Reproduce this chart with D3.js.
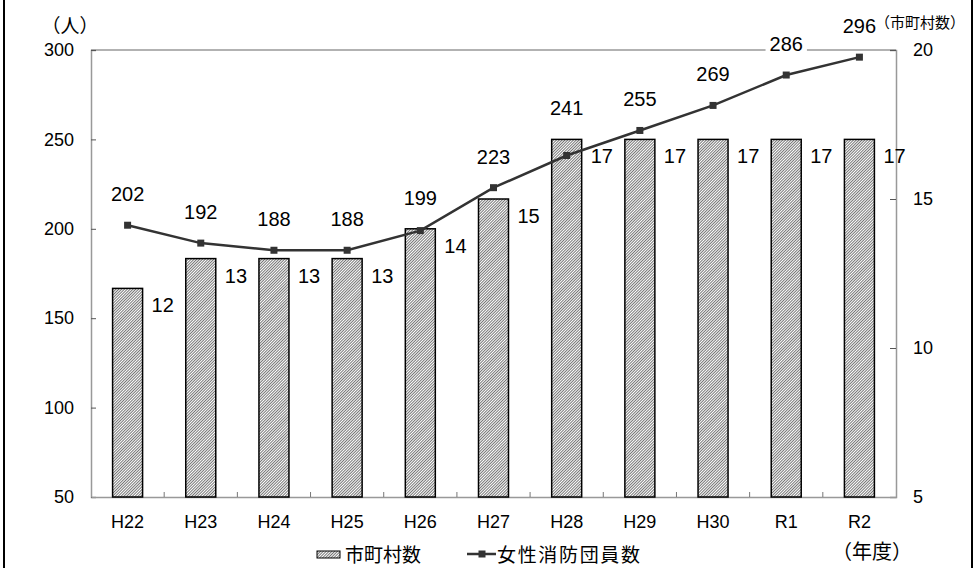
<!DOCTYPE html>
<html><head><meta charset="utf-8">
<script src="https://cdn.jsdelivr.net/npm/d3@7"></script>
<style>
body{margin:0;background:#fff;}
svg{display:block;}
text{font-family:"Liberation Sans","Noto Sans CJK JP",sans-serif;fill:#000;}
.jp{font-family:"Noto Sans CJK JP",sans-serif;}
</style></head>
<body><svg id="c" width="974" height="568"></svg>
<script>
const categories = ["H22","H23","H24","H25","H26","H27","H28","H29","H30","R1","R2"];
const municipalities = [12,13,13,13,14,15,17,17,17,17,17];
const femaleMembers = [202,192,188,188,199,223,241,255,269,286,296];
const leftTicks = [50,100,150,200,250,300];
const rightTicks = [5,10,15,20];
const barSeriesName = "市町村数";
const lineSeriesName = "女性消防団員数";
const leftUnit = "（人）";
const rightUnit = "（市町村数）";
const xUnit = "（年度）";

const svg = d3.select("#c");
const L = 91, R = 896, T = 50, B = 497;
const x = d3.scaleBand().domain(categories).range([L, R]);
const yL = d3.scaleLinear().domain([50,300]).range([B, T]);
const yR = d3.scaleLinear().domain([5,20]).range([B, T]);
const barW = 30;

// frame side lines
svg.append("rect").attr("x",3).attr("y",0).attr("width",2).attr("height",568).attr("fill","#000");
svg.append("rect").attr("x",971).attr("y",0).attr("width",2).attr("height",568).attr("fill","#000");

// hatch pattern
const defs = svg.append("defs");
const pat = defs.append("pattern").attr("id","hatch").attr("patternUnits","userSpaceOnUse")
  .attr("width",2).attr("height",2).attr("patternTransform","rotate(45)");
pat.append("rect").attr("width",2).attr("height",2).attr("fill","#fff");
pat.append("line").attr("x1",0.4).attr("y1",0).attr("x2",0.4).attr("y2",2).attr("stroke","#333").attr("stroke-width",0.75);

// plot frame
svg.append("line").attr("x1",L).attr("x2",R).attr("y1",T).attr("y2",T).attr("stroke","#999").attr("stroke-width",1.5);

// axes
const gl = svg.append("g").attr("transform",`translate(${L},0)`)
  .call(d3.axisLeft(yL).tickValues(leftTicks).tickSize(-5).tickPadding(17));
const gr = svg.append("g").attr("transform",`translate(${R},0)`)
  .call(d3.axisRight(yR).tickValues(rightTicks).tickSize(-6).tickPadding(17));
const gb = svg.append("g").attr("transform",`translate(0,${B})`)
  .call(d3.axisBottom(x).tickSize(0).tickPadding(18));
[gl,gr,gb].forEach(g=>{
  g.select(".domain").attr("stroke","#999").attr("stroke-width",1.5);
  g.selectAll(".tick line").attr("stroke","#555");
  g.selectAll("text").attr("font-size",18).attr("font-family",null);
});
// category boundary ticks
svg.append("g").selectAll("line").data(categories.slice(1)).join("line")
  .attr("x1",d=>x(d)).attr("x2",d=>x(d)).attr("y1",B).attr("y2",B-5).attr("stroke","#777");

// bars
const cx = d => x(d) + x.bandwidth()/2;
svg.append("g").selectAll("rect").data(categories).join("rect")
  .attr("x",d=>cx(d)-barW/2).attr("width",barW)
  .attr("y",(d,i)=>yR(municipalities[i])).attr("height",(d,i)=>B-yR(municipalities[i]))
  .attr("fill","url(#hatch)").attr("stroke","#000").attr("stroke-width",1.5);

// bar labels
svg.append("g").selectAll("text").data(categories).join("text")
  .attr("x",d=>cx(d)+barW/2+9).attr("y",(d,i)=>yR(municipalities[i])+24)
  .attr("font-size",20).text((d,i)=>municipalities[i]);

// line
const line = d3.line().x((d,i)=>cx(categories[i])).y(d=>yL(d));
svg.append("path").datum(femaleMembers).attr("d",line).attr("fill","none")
  .attr("stroke","#333").attr("stroke-width",2.5);
svg.append("g").selectAll("rect").data(femaleMembers).join("rect")
  .attr("x",(d,i)=>cx(categories[i])-3.5).attr("y",d=>yL(d)-3.5)
  .attr("width",7).attr("height",7).attr("fill","#333");

// line labels
const lg = svg.append("g");
femaleMembers.forEach((v,i)=>{
  const ref = Math.min(yL(v), yR(municipalities[i]));
  const t = lg.append("text").attr("x",cx(categories[i])).attr("y",ref-24)
    .attr("text-anchor","middle").attr("font-size",20).text(v);
  const bb = t.node().getBBox();
  lg.insert("rect","text").attr("x",bb.x-4).attr("y",bb.y).attr("width",bb.width+8).attr("height",bb.height).attr("fill","#fff");
});
lg.selectAll("text").raise();

// unit labels
svg.append("text").attr("class","jp").attr("x",70).attr("y",24).attr("text-anchor","middle")
  .attr("dominant-baseline","central").attr("font-size",19).text(leftUnit);
svg.append("text").attr("class","jp").attr("x",920).attr("y",21).attr("text-anchor","middle")
  .attr("dominant-baseline","central").attr("font-size",15).text(rightUnit);
svg.append("text").attr("class","jp").attr("x",872).attr("y",550).attr("text-anchor","middle")
  .attr("dominant-baseline","central").attr("font-size",20).text(xUnit);

// legend
svg.append("rect").attr("x",317).attr("y",551).attr("width",23).attr("height",7)
  .attr("fill","url(#hatch)").attr("stroke","#000").attr("stroke-width",1);
svg.append("text").attr("class","jp").attr("x",345).attr("y",553).attr("dominant-baseline","central")
  .attr("font-size",19).text(barSeriesName);
svg.append("line").attr("x1",467).attr("x2",496).attr("y1",554).attr("y2",554).attr("stroke","#333").attr("stroke-width",2.5);
svg.append("rect").attr("x",478.5).attr("y",550.5).attr("width",7).attr("height",7).attr("fill","#333");
svg.append("text").attr("class","jp").attr("x",497).attr("y",553).attr("dominant-baseline","central")
  .attr("font-size",19).attr("textLength",143).text(lineSeriesName);
</script></body></html>
